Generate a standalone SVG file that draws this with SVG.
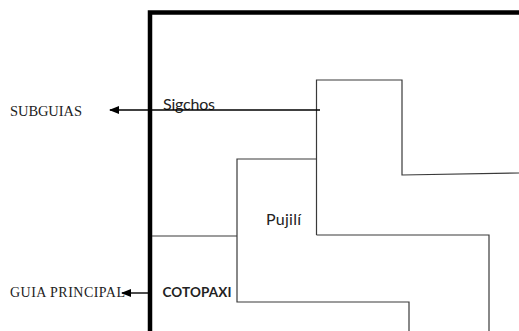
<svg xmlns="http://www.w3.org/2000/svg" width="519" height="331" viewBox="0 0 519 331">
<style>
.frame{fill:none;stroke:#000;stroke-width:4.5}
.b{fill:none;stroke:#3a3a3a;stroke-width:1.2}
.arr{fill:none;stroke:#000;stroke-width:1.4}
.serif{font-family:"Liberation Serif","Times New Roman",serif;fill:#222}
.sans{font-family:Lato,"Liberation Sans",Arial,sans-serif;fill:#222}
</style>
<defs>
<marker id="ah" markerWidth="10" markerHeight="8" refX="9" refY="4" orient="auto" markerUnits="userSpaceOnUse">
<path d="M0,0 L10,4 L0,8 Z" fill="#000"/>
</marker>
</defs>
<rect width="519" height="331" fill="#fff"/>
<g id="frame">
<path class="frame" d="M150,331 V12.5 H519"/>
</g>
<g id="sigchos">
<path class="b" d="M316.5,235 V80 H402 V175 L519,173"/>
<text class="sans" x="163" y="110" font-size="16" textLength="52">Sigchos</text>
</g>
<g id="pujili">
<path class="b" d="M316.5,235 H489 V331"/>
<path class="b" d="M316.5,159 H237 V302 H409 V331"/>
<text class="sans" x="266" y="225" font-size="16" textLength="35">Pujilí</text>
</g>
<g id="cotopaxi">
<path class="b" d="M152,236 H237"/>
<text class="sans" x="162.5" y="297" font-size="13.5" font-weight="bold" textLength="69">COTOPAXI</text>
</g>
<g id="labels">
<text class="serif" x="10" y="116" font-size="14.5" textLength="72">SUBGUIAS</text>
<text class="serif" x="10" y="297" font-size="14" textLength="115">GUIA PRINCIPAL</text>
</g>
<g id="connectors">
<path class="arr" d="M320,110 H110" marker-end="url(#ah)"/>
<path class="arr" d="M148,293 H122" marker-end="url(#ah)"/>
</g>
</svg>
